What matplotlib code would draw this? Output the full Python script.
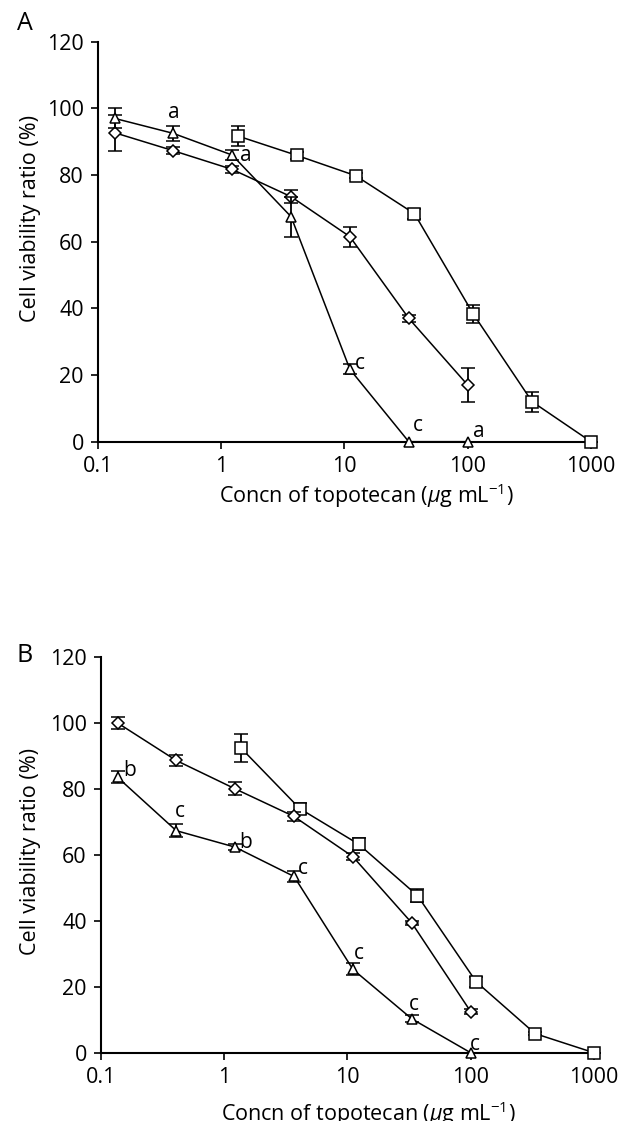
import numpy as np
import matplotlib
matplotlib.use("Agg")
import matplotlib.pyplot as plt

plt.rcParams['font.family'] = ['Open Sans', 'DejaVu Sans']
plt.rcParams['mathtext.fontset'] = 'custom'
plt.rcParams['mathtext.rm'] = 'Open Sans'
plt.rcParams['mathtext.it'] = 'Open Sans:italic'

# ------------------------
# Data
# ------------------------

conc_low = [0.137, 0.41, 1.23, 3.7, 11.1, 33.3, 100]      # diamonds / triangles
conc_high = [1.372, 4.115, 12.35, 37.04, 111.1, 333.3, 1000]  # squares

# Panel A
a_diamond = [92.7, 87.3, 81.7, 73.5, 61.5, 37.0, 17.0]
a_diamond_err = [5.4, 1.0, 1.0, 2.0, 3.0, 1.0, 5.0]
a_square = [91.7, 85.9, 79.8, 68.4, 38.3, 12.0, 0.0]
a_square_err = [3.0, 1.0, 0.7, 1.5, 2.7, 3.0, 0.0]
a_triangle = [97.0, 92.5, 86.0, 67.5, 21.7, 0.0, 0.0]
a_triangle_err = [3.0, 2.3, 1.5, 6.0, 1.5, 0.0, 0.0]
a_letters = ['', 'a', 'a', '', 'c', 'c', 'a']

# Panel B
b_diamond = [100.1, 88.7, 80.1, 71.7, 59.5, 39.4, 12.5]
b_diamond_err = [1.7, 1.6, 2.0, 1.5, 1.0, 0.5, 0.8]
b_square = [92.5, 74.1, 63.3, 47.7, 21.5, 5.8, 0.0]
b_square_err = [4.2, 1.7, 1.8, 2.0, 1.6, 0.5, 0.0]
b_triangle = [83.6, 67.4, 62.4, 53.5, 25.3, 10.3, 0.0]
b_triangle_err = [1.8, 2.0, 1.0, 1.8, 1.8, 1.0, 0.0]
b_letters = ['b', 'c', 'b', 'c', 'c', 'c', 'c']

# letter offsets from the triangle points, in pixels
a_offsets = [(0, 0), (1, 21), (14, 0), (0, 0), (10, 6), (9, 16), (11, 10)]
b_offsets = [(12, 7), (4, 19), (11, 5), (9, 8), (6, 16), (2, 14), (4, 8)]

xlabel = r'Concn of topotecan ($\mu$g mL$^{-1}$)'
ylabel = 'Cell viability ratio (%)'

# ------------------------
# Plot
# ------------------------

fig = plt.figure(figsize=(6.23, 11.21), dpi=100)
ax_a = fig.add_axes([0.1568, 0.6060, 0.7918, 0.3568])
ax_b = fig.add_axes([0.1616, 0.0609, 0.7918, 0.3527])

mk = dict(color='black', mfc='white', mec='black', mew=1.1, lw=1.1,
          elinewidth=1.3, capsize=5, capthick=1.3, clip_on=False)


def draw_panel(ax, diamond, d_err, square, s_err, tri, t_err, letters, offsets):
    ax.errorbar(conc_high, square, yerr=s_err, fmt='-s', ms=8.3, zorder=3, **mk)
    ax.errorbar(conc_low, diamond, yerr=d_err, fmt='-D', ms=6, zorder=4, **mk)
    ax.errorbar(conc_low, tri, yerr=t_err, fmt='-^', ms=7.5, zorder=5, **mk)
    for x, y, lab, off in zip(conc_low, tri, letters, offsets):
        if lab:
            ax.annotate(lab, (x, y), xytext=off, textcoords='offset pixels',
                        ha='center', va='center', fontsize=15)

    ax.set_xscale('log')
    ax.set_xlim(0.1, 1000)
    ax.set_ylim(0, 120)
    ax.set_xticks([0.1, 1, 10, 100, 1000])
    ax.set_xticklabels(['0.1', '1', '10', '100', '1000'])
    ax.xaxis.set_minor_locator(matplotlib.ticker.NullLocator())
    ax.set_yticks(range(0, 121, 20))
    ax.spines['top'].set_visible(False)
    ax.spines['right'].set_visible(False)
    ax.spines['left'].set_linewidth(1.5)
    ax.spines['bottom'].set_linewidth(1.5)
    ax.tick_params(direction='out', length=5, width=1.2, labelsize=15.5)
    ax.tick_params(axis='x', pad=5)
    ax.tick_params(axis='y', pad=5)
    ax.set_xlabel(xlabel, fontsize=15.5)
    ax.set_ylabel(ylabel, fontsize=15.5)


draw_panel(ax_a, a_diamond, a_diamond_err, a_square, a_square_err,
           a_triangle, a_triangle_err, a_letters, a_offsets)
draw_panel(ax_b, b_diamond, b_diamond_err, b_square, b_square_err,
           b_triangle, b_triangle_err, b_letters, b_offsets)

ax_a.yaxis.set_label_coords(-0.114, 0.559)
ax_a.xaxis.set_label_coords(0.544, -0.100)
ax_b.yaxis.set_label_coords(-0.120, 0.508)
ax_b.xaxis.set_label_coords(0.542, -0.117)

fig.text(25 / 623, 1 - 23 / 1121, 'A', fontsize=18, ha='center', va='center')
fig.text(25 / 623, 1 - 655 / 1121, 'B', fontsize=18, ha='center', va='center')

fig.savefig('out.png', dpi=100)
